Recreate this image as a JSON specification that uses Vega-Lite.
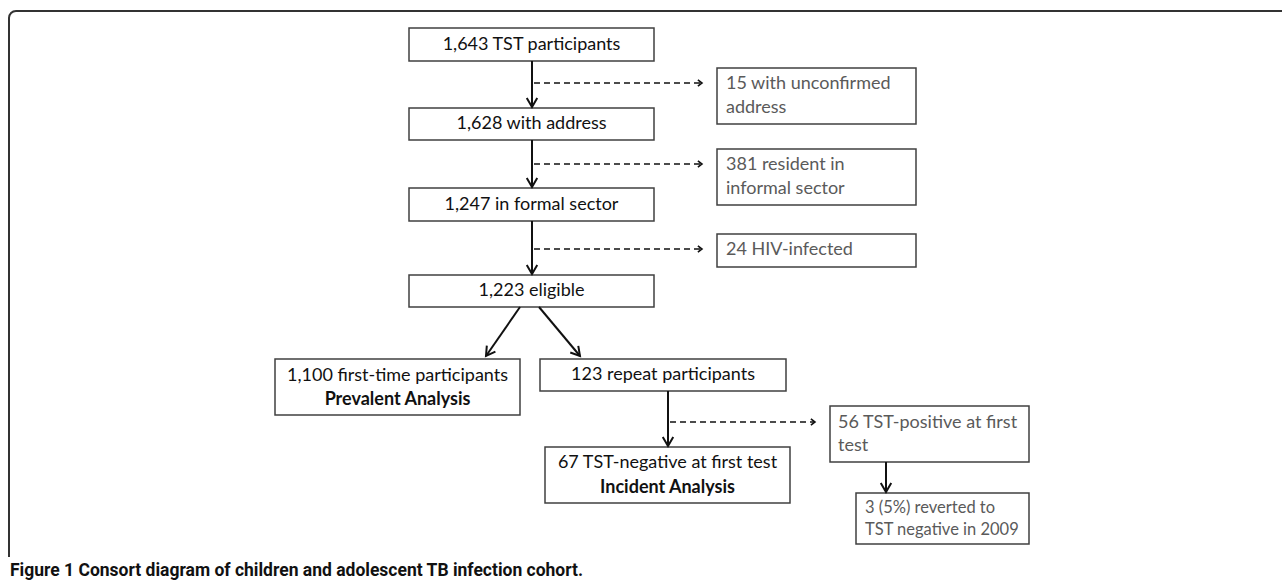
{
  "$schema": "https://vega.github.io/schema/vega-lite/v6.json",
  "width": 1282,
  "height": 585,
  "padding": 0,
  "autosize": {"type": "none"},
  "background": "white",
  "config": {"view": {"stroke": null}},
  "datasets": {
    "frame": [{"x": 9, "x2": 1400, "y": 11, "y2": 900}],
    "mask": [{"x": 0, "x2": 1282, "y": 557, "y2": 600}],
    "boxes": [
      {"id": "B1", "x": 409, "x2": 654, "y": 28, "y2": 61},
      {"id": "B2", "x": 409, "x2": 654, "y": 108, "y2": 140},
      {"id": "B3", "x": 409, "x2": 654, "y": 188, "y2": 221},
      {"id": "B4", "x": 409, "x2": 654, "y": 275, "y2": 307},
      {"id": "R1", "x": 717, "x2": 916, "y": 68, "y2": 124},
      {"id": "R2", "x": 717, "x2": 916, "y": 149, "y2": 205},
      {"id": "R3", "x": 717, "x2": 916, "y": 234, "y2": 267},
      {"id": "L", "x": 275, "x2": 520, "y": 359, "y2": 415},
      {"id": "M", "x": 540, "x2": 786, "y": 359, "y2": 391},
      {"id": "N", "x": 545, "x2": 790, "y": 447, "y2": 503},
      {"id": "P", "x": 830, "x2": 1029, "y": 406, "y2": 462},
      {"id": "Q", "x": 856, "x2": 1029, "y": 493, "y2": 544}
    ],
    "arrows": [
      {"x": 532, "y": 61, "x2": 532, "y2": 107, "line": "solid", "dir": "down"},
      {"x": 532, "y": 140, "x2": 532, "y2": 187, "line": "solid", "dir": "down"},
      {"x": 532, "y": 221, "x2": 532, "y2": 274, "line": "solid", "dir": "down"},
      {"x": 520, "y": 307, "x2": 486, "y2": 356, "line": "solid", "dir": "dl"},
      {"x": 539, "y": 307, "x2": 580, "y2": 356, "line": "solid", "dir": "dr"},
      {"x": 668, "y": 391, "x2": 668, "y2": 446, "line": "solid", "dir": "down"},
      {"x": 886, "y": 462, "x2": 886, "y2": 492, "line": "solid", "dir": "down"},
      {"x": 534, "y": 83, "x2": 702, "y2": 83, "line": "dashed", "dir": "right"},
      {"x": 534, "y": 164, "x2": 702, "y2": 164, "line": "dashed", "dir": "right"},
      {"x": 534, "y": 249, "x2": 702, "y2": 249, "line": "dashed", "dir": "right"},
      {"x": 670, "y": 422, "x2": 815, "y2": 422, "line": "dashed", "dir": "right"}
    ],
    "labels": [
      {"x": 531.5, "y": 44.5, "text": "1,643 TST participants", "role": "main"},
      {"x": 531.5, "y": 124, "text": "1,628 with address", "role": "main"},
      {"x": 531.5, "y": 204.5, "text": "1,247 in formal sector", "role": "main"},
      {"x": 531.5, "y": 291, "text": "1,223 eligible", "role": "main"},
      {"x": 397.5, "y": 376, "text": "1,100 first-time participants", "role": "main"},
      {"x": 397.5, "y": 400, "text": "Prevalent Analysis", "role": "bold"},
      {"x": 663, "y": 375, "text": "123 repeat participants", "role": "main"},
      {"x": 667.5, "y": 463, "text": "67 TST-negative at first test", "role": "main"},
      {"x": 667.5, "y": 488, "text": "Incident Analysis", "role": "bold"},
      {"x": 726, "y": 84, "text": "15 with unconfirmed", "role": "side"},
      {"x": 726, "y": 108, "text": "address", "role": "side"},
      {"x": 726, "y": 165, "text": "381 resident in", "role": "side"},
      {"x": 726, "y": 189, "text": "informal sector", "role": "side"},
      {"x": 726, "y": 250, "text": "24 HIV-infected", "role": "side"},
      {"x": 838, "y": 423, "text": "56 TST-positive at first", "role": "side"},
      {"x": 838, "y": 446, "text": "test", "role": "side"},
      {"x": 865, "y": 508, "text": "3 (5%) reverted to", "role": "small"},
      {"x": 865, "y": 530, "text": "TST negative in 2009", "role": "small"}
    ],
    "caption": [{"x": 10, "y": 576, "text": "Figure 1 Consort diagram of children and adolescent TB infection cohort."}]
  },
  "encoding": {
    "x": {"field": "x", "type": "quantitative", "axis": null, "scale": {"domain": [0, 1282], "nice": false, "zero": false}},
    "y": {"field": "y", "type": "quantitative", "axis": null, "scale": {"domain": [0, 585], "nice": false, "zero": false, "reverse": true}}
  },
  "layer": [
    {
      "data": {"name": "frame"},
      "mark": {"type": "rect", "fill": null, "stroke": "#333333", "strokeWidth": 2, "cornerRadius": 7},
      "encoding": {"x2": {"field": "x2"}, "y2": {"field": "y2"}}
    },
    {
      "data": {"name": "mask"},
      "mark": {"type": "rect", "fill": "white", "stroke": null},
      "encoding": {"x2": {"field": "x2"}, "y2": {"field": "y2"}}
    },
    {
      "data": {"name": "boxes"},
      "mark": {"type": "rect", "fill": "white", "stroke": "#404040", "strokeWidth": 1.5},
      "encoding": {"x2": {"field": "x2"}, "y2": {"field": "y2"}}
    },
    {
      "data": {"name": "arrows"},
      "transform": [{"filter": "datum.line === 'solid'"}],
      "mark": {"type": "rule", "color": "#111111", "strokeWidth": 2},
      "encoding": {"x2": {"field": "x2"}, "y2": {"field": "y2"}}
    },
    {
      "data": {"name": "arrows"},
      "transform": [{"filter": "datum.line === 'dashed'"}],
      "mark": {"type": "rule", "color": "#111111", "strokeWidth": 1.5, "strokeDash": [6, 4]},
      "encoding": {"x2": {"field": "x2"}, "y2": {"field": "y2"}}
    },
    {
      "data": {"name": "arrows"},
      "transform": [{"filter": "datum.line === 'solid' && datum.dir === 'down'"}],
      "mark": {"type": "point", "shape": "M-1,-1.7L0,0L1,-1.7", "filled": false, "stroke": "#111111", "strokeWidth": 2, "size": 110, "opacity": 1},
      "encoding": {"x": {"field": "x2"}, "y": {"field": "y2"}}
    },
    {
      "data": {"name": "arrows"},
      "transform": [{"filter": "datum.dir === 'dl'"}],
      "mark": {"type": "point", "shape": "M-1,-1.7L0,0L1,-1.7", "filled": false, "stroke": "#111111", "strokeWidth": 2, "size": 110, "angle": 35, "opacity": 1},
      "encoding": {"x": {"field": "x2"}, "y": {"field": "y2"}}
    },
    {
      "data": {"name": "arrows"},
      "transform": [{"filter": "datum.dir === 'dr'"}],
      "mark": {"type": "point", "shape": "M-1,-1.7L0,0L1,-1.7", "filled": false, "stroke": "#111111", "strokeWidth": 2, "size": 110, "angle": -40, "opacity": 1},
      "encoding": {"x": {"field": "x2"}, "y": {"field": "y2"}}
    },
    {
      "data": {"name": "arrows"},
      "transform": [{"filter": "datum.dir === 'right'"}],
      "mark": {"type": "point", "shape": "M-1,-1.3L0,0L1,-1.3", "filled": false, "stroke": "#111111", "strokeWidth": 1.6, "size": 40, "angle": -90, "opacity": 1},
      "encoding": {"x": {"field": "x2"}, "y": {"field": "y2"}}
    },
    {
      "data": {"name": "labels"},
      "transform": [{"filter": "datum.role === 'main'"}],
      "mark": {"type": "text", "font": "Lato", "fontSize": 18, "color": "#111111", "align": "center", "baseline": "middle"},
      "encoding": {"text": {"field": "text"}}
    },
    {
      "data": {"name": "labels"},
      "transform": [{"filter": "datum.role === 'bold'"}],
      "mark": {"type": "text", "font": "Lato", "fontSize": 18, "fontWeight": "bold", "color": "#111111", "align": "center", "baseline": "middle"},
      "encoding": {"text": {"field": "text"}}
    },
    {
      "data": {"name": "labels"},
      "transform": [{"filter": "datum.role === 'side'"}],
      "mark": {"type": "text", "font": "Lato", "fontSize": 18, "color": "#5a5a5a", "align": "left", "baseline": "middle"},
      "encoding": {"text": {"field": "text"}}
    },
    {
      "data": {"name": "labels"},
      "transform": [{"filter": "datum.role === 'small'"}],
      "mark": {"type": "text", "font": "Lato", "fontSize": 16.5, "color": "#5a5a5a", "align": "left", "baseline": "middle"},
      "encoding": {"text": {"field": "text"}}
    },
    {
      "data": {"name": "caption"},
      "mark": {"type": "text", "font": "Roboto", "fontSize": 17.5, "fontWeight": "bold", "color": "#111111", "align": "left", "baseline": "alphabetic"},
      "encoding": {"text": {"field": "text"}}
    }
  ]
}
